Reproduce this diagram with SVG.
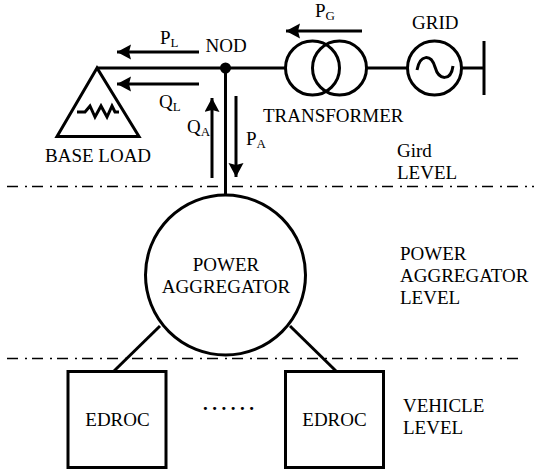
<svg xmlns="http://www.w3.org/2000/svg" width="534" height="470" viewBox="0 0 534 470">
<style>
text{font-family:"Liberation Serif","Times New Roman",serif;font-size:19px;fill:#000}
.sub{font-size:13px}
.l{fill:none;stroke:#000;stroke-width:3}
.f{fill:none;stroke:#000;stroke-width:3}
.lv{fill:none;stroke:#000;stroke-width:1.300;stroke-dasharray:11 7 2 5}
.ar{fill:none;stroke:#000;stroke-width:3}
</style>
<defs><marker id="a" markerUnits="userSpaceOnUse" markerWidth="16" markerHeight="16" refX="14" refY="7.500" orient="auto"><path d="M0 0L14 7.500L0 15L2 7.500Z" fill="#000"/></marker></defs>
<rect width="534" height="470" fill="#fff"/>
<g id="level-lines"><path class="lv" d="M7 186.500H534"/><path class="lv" d="M7 358.500H521"/></g>
<g id="connectors">
<path class="l" d="M97 68H285"/><path class="l" d="M225.500 68V196"/><path class="l" d="M367 68H407"/><path class="l" d="M462 68H484"/>
<path class="l" d="M160 326L114 371"/><path class="l" d="M290 326L336 371"/>
<path class="ar" d="M199 52H117" marker-end="url(#a)"/><path class="ar" d="M199 84H117" marker-end="url(#a)"/>
<path class="ar" d="M212 178V98" marker-end="url(#a)"/><path class="ar" d="M236 96V177" marker-end="url(#a)"/>
<path class="ar" d="M362 31H286" marker-end="url(#a)"/>
</g>
<g id="base-load"><path class="f" d="M97 68L57 136.500H139Z"/><path class="f" d="M77 112H85L90 106L95 117L101 106L107 117L112 106L115 112H119"/>
<text x="45" y="162">BASE LOAD</text></g>
<g id="node"><circle cx="225.500" cy="68" r="5.500" fill="#000"/><text x="205.500" y="52">NOD</text></g>
<g id="transformer"><circle class="f" cx="312.500" cy="68" r="27"/><circle class="f" cx="339.500" cy="68" r="27"/><text x="263" y="122">TRANSFORMER</text></g>
<g id="grid"><circle class="f" cx="434.500" cy="68" r="27"/><path class="f" d="M417 70C420 54 431 54 435 67C439 81 451 81 453 66"/><path d="M484 41V95" fill="none" stroke="#000" stroke-width="3"/><text x="412" y="29">GRID</text></g>
<g id="power-aggregator"><circle class="f" cx="225.500" cy="275" r="80"/><text x="226" y="271" text-anchor="middle">POWER</text><text x="226" y="293" text-anchor="middle">AGGREGATOR</text></g>
<g id="edroc-1"><rect class="f" x="68" y="371.500" width="98" height="96"/><text x="117.500" y="426" text-anchor="middle">EDROC</text></g>
<g id="edroc-2"><rect class="f" x="285.500" y="371.500" width="98" height="96"/><text x="334.500" y="426" text-anchor="middle">EDROC</text></g>
<g id="ellipsis"><text x="203" y="410" style="font-weight:bold" letter-spacing="4.500">......</text></g>
<g id="labels">
<text x="160" y="44">P<tspan class="sub" dy="3">L</tspan></text>
<text x="159" y="108">Q<tspan class="sub" dy="3">L</tspan></text>
<text x="187" y="133">Q<tspan class="sub" dy="3">A</tspan></text>
<text x="246" y="145">P<tspan class="sub" dy="3">A</tspan></text>
<text x="315" y="17">P<tspan class="sub" dy="3">G</tspan></text>
<text x="397" y="157">Gird</text><text x="397" y="179">LEVEL</text>
<text x="400" y="260">POWER</text><text x="400" y="282">AGGREGATOR</text><text x="400" y="304">LEVEL</text>
<text x="403" y="412">VEHICLE</text><text x="403" y="434">LEVEL</text>
</g>
</svg>
